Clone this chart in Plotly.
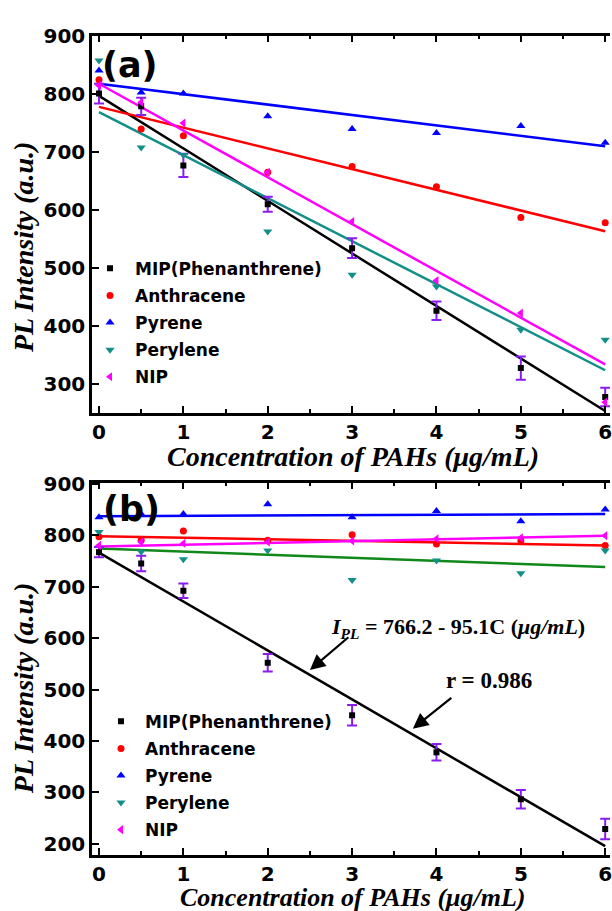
import plotly.graph_objects as go

conc = [0, 0.5, 1, 2, 3, 4, 5, 6]
names = ["MIP(Phenanthrene)", "Anthracene", "Pyrene", "Perylene", "NIP"]

# Panel (a)
mip_a = [801, 779, 677, 610, 534, 426, 327, 277]
mip_a_err = [17, 15, 20, 13, 17, 16, 20, 16]
anth_a = [825, 740, 728, 665, 675, 640, 587, 578]
pyr_a = [841, 803, 801, 762, 740, 733, 745, 716]
pery_a = [858, 708, 695, 563, 488, 468, 393, 376]
nip_a = [815, 786, 750, 665, 580, 478, 422, 268]
fit_a_int = [797, 778, 818, 769, 818]
fit_a_slope = [-90.7, -35.8, -18.0, -74.3, -80.8]

# Panel (b)
mip_b = [767, 745, 692, 552, 450, 378, 287, 229]
mip_b_err = [10, 15, 14, 17, 20, 16, 18, 20]
anth_b = [797, 790, 808, 790, 801, 783, 789, 780]
pyr_b = [835, 841, 841, 860, 835, 847, 827, 850]
pery_b = [806, 768, 753, 770, 713, 751, 726, 770]
nip_b = [780, 787, 784, 787, 789, 793, 795, 799]
fit_b_int = [766.2, 798, 837, 774, 778]
fit_b_slope = [-95.1, -3.0, 0.7, -6.0, 3.5]

symbols = ["square", "circle", "triangle-up", "triangle-down", "triangle-left"]
mcolors = ["#000000", "#ff0000", "#0000ff", "#138f8a", "#ff00ff"]
msizes = [6, 7, 8, 8, 8]
lcolors_a = ["#000000", "#ff0000", "#0000ff", "#138f8a", "#ff00ff"]
lcolors_b = ["#000000", "#ff0000", "#0000ff", "#11881a", "#ff00ff"]
err_color = "#8a1cf0"

fig = go.Figure()

def add_panel(series, errs, ints, slopes, lcolors, xa, ya, legend):
    for i, ys in enumerate(series):
        x0, x1 = conc[0], conc[-1]
        fig.add_trace(go.Scatter(
            x=[x0, x1], y=[ints[i] + slopes[i] * x0, ints[i] + slopes[i] * x1],
            mode="lines", line=dict(color=lcolors[i], width=2.5),
            showlegend=False, xaxis=xa, yaxis=ya, hoverinfo="skip"))
    for i, ys in enumerate(series):
        kw = {}
        if i == 0:
            kw["error_y"] = dict(type="data", array=errs, color=err_color,
                                 thickness=2, width=5)
        fig.add_trace(go.Scatter(
            x=conc, y=ys, mode="markers", name=names[i],
            marker=dict(symbol=symbols[i], color=mcolors[i], size=msizes[i]),
            xaxis=xa, yaxis=ya, legend=legend, legendgroup=legend + str(i),
            **kw))

add_panel([mip_a, anth_a, pyr_a, pery_a, nip_a], mip_a_err, fit_a_int, fit_a_slope,
          lcolors_a, "x", "y", "legend")
add_panel([mip_b, anth_b, pyr_b, pery_b, nip_b], mip_b_err, fit_b_int, fit_b_slope,
          lcolors_b, "x2", "y2", "legend2")

H = 911.0
W = 612.0
L = 92.0
PW = W - L


def px(xpix):
    return (xpix - L) / PW


tickfont = dict(family="DejaVu Sans", size=20, color="black", weight="bold")
xcommon = dict(range=[-0.083, 6.057], tickvals=[0, 1, 2, 3, 4, 5, 6],
               ticks="inside", ticklen=7, tickwidth=2, tickcolor="black",
               showline=True, linewidth=2.5, linecolor="black", mirror="ticks",
               showgrid=False, zeroline=False, tickfont=tickfont,
               ticklabeloverflow="allow",
               minor=dict(dtick=0.5, ticks="inside", ticklen=4, tickwidth=1.5,
                          tickcolor="black", showgrid=False))
ycommon = dict(dtick=100, ticks="inside", ticklen=7, tickwidth=2, tickcolor="black",
               showline=True, linewidth=2.5, linecolor="black",
               showgrid=False, zeroline=False, tickfont=tickfont)

legfont = dict(family="DejaVu Sans", size=17, color="black", weight="bold")
fig.update_layout(
    width=612, height=911,
    margin=dict(l=92, r=0, t=0, b=0),
    paper_bgcolor="white", plot_bgcolor="white",
    xaxis=dict(domain=[0, 1], anchor="y", **xcommon),
    yaxis=dict(domain=[1 - 407 / H, 1 - 25 / H], anchor="x", range=[250, 901],
               tickvals=[300, 400, 500, 600, 700, 800, 900], **ycommon),
    xaxis2=dict(domain=[0, 1], anchor="y2", **xcommon),
    yaxis2=dict(domain=[1 - 855 / H, 1 - 478 / H], anchor="x2", range=[179, 902],
                tickvals=[200, 300, 400, 500, 600, 700, 800, 900], **ycommon),
    legend=dict(x=px(85), xref="paper", y=1 - 243 / H, yanchor="top",
                font=legfont, bgcolor="rgba(0,0,0,0)", tracegroupgap=2, itemwidth=40),
    legend2=dict(x=px(97), xref="paper", y=1 - 702 / H, yanchor="top",
                 font=legfont, bgcolor="rgba(0,0,0,0)", tracegroupgap=2, itemwidth=38),
)

ann = []
for yp, fs in [(1 - 451 / H, 28), (1 - 898 / H, 26)]:
    ann.append(dict(text="<b><i>Concentration of PAHs (μg/mL)</i></b>", xref="paper",
                    yref="paper", x=px(354), y=yp, showarrow=False,
                    xanchor="center", yanchor="middle",
                    font=dict(family="Liberation Serif", size=fs, color="black")))
for yp in [1 - 239 / H, 1 - 686 / H]:
    ann.append(dict(text="<b><i>PL Intensity (a.u.)</i></b>", xref="paper",
                    yref="paper", x=px(24), y=yp, showarrow=False, textangle=-90,
                    xanchor="center", yanchor="middle",
                    font=dict(family="Liberation Serif", size=28, color="black")))
ann.append(dict(text="<b>(a)</b>", xref="x", yref="y", x=0.37, y=850, showarrow=False,
                font=dict(family="DejaVu Sans", size=35, color="black")))
ann.append(dict(text="<b>(b)</b>", xref="x2", yref="y2", x=0.39, y=851, showarrow=False,
                font=dict(family="DejaVu Sans", size=35, color="black")))
ann.append(dict(text="<b><i>I</i><sub><i>PL</i></sub> = 766.2 - 95.1C (<i>μg/mL</i>)</b>",
                xref="x2", yref="y2", x=4.26, y=620, showarrow=False,
                font=dict(family="Liberation Serif", size=22, color="black")))
ann.append(dict(text="<b>r = 0.986</b>", xref="x2", yref="y2", x=4.62, y=518,
                showarrow=False,
                font=dict(family="Liberation Serif", size=23, color="black")))
ann.append(dict(text="", xref="x2", yref="y2", x=2.5, y=538, ax=40, ay=-34,
                showarrow=True, arrowhead=2, arrowsize=1.4, arrowwidth=2.2,
                arrowcolor="black"))
ann.append(dict(text="", xref="x2", yref="y2", x=3.72, y=424, ax=40, ay=-32,
                showarrow=True, arrowhead=2, arrowsize=1.4, arrowwidth=2.2,
                arrowcolor="black"))
fig.update_layout(annotations=ann)

fig.write_html("out.html")
